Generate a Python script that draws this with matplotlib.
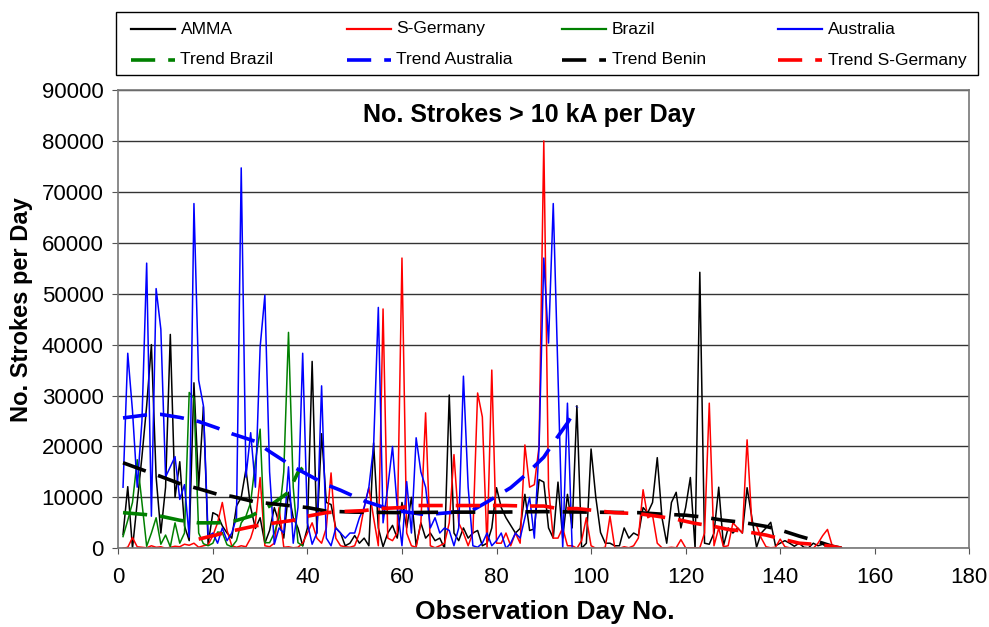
import numpy as np
import matplotlib
matplotlib.use('Agg')
import matplotlib.pyplot as plt
from matplotlib.lines import Line2D
from matplotlib.patches import Rectangle

plt.rcParams['font.family'] = ['Liberation Sans', 'DejaVu Sans']

# daily strokes > 10 kA, day 1..n
amma = [2700, 12100, 0, 9000, 18000, 28000, 40000, 14000, 3000, 12000,
        42000, 10000, 17000, 4400, 1500, 32500, 12000, 27800, 800, 7000,
        6500, 4400, 3000, 2000, 8300, 10000, 15500, 8000, 3900, 6000,
        1000, 3500, 8000, 5000, 2000, 11000, 6000, 4000, 500, 4000,
        36700, 3000, 22500, 9000, 8600, 4000, 3000, 500, 1000, 2500,
        1000, 2000, 500, 20700, 4000, 300, 3000, 4500, 2000, 9000,
        4000, 10000, 500, 5000, 2000, 3000, 1500, 2000, 0, 30100,
        3000, 1500, 4000, 2000, 3000, 3500, 500, 1000, 4000, 11900,
        8000, 6000, 4500, 3000, 3900, 10600, 3500, 3800, 13500, 13000,
        4000, 2000, 13000, 2000, 10600, 4000, 28000, 0, 1000, 19500,
        10000, 3100, 1000, 1000, 500, 500, 4000, 2000, 3000, 2500,
        8000, 7000, 9000, 17800, 6000, 1000, 9000, 11000, 4000, 8000,
        13900, 0, 54200, 1000, 800, 3000, 12000, 500, 4000, 3000,
        4000, 3000, 11900, 6000, 200, 3000, 4000, 5100, 500, 1000,
        1500, 1000, 400, 1000, 200, 100, 1000, 500, 800, 300,
        200, 100, 0]
s_germany = [0, 200, 2100, 300, 200, 100, 500, 200, 300, 0,
             200, 400, 300, 800, 600, 1000, 200, 500, 700, 2500,
             5000, 9000, 3500, 500, 200, 500, 300, 2000, 5000, 13900,
             500, 300, 1000, 8000, 200, 300, 100, 200, 1000, 3000,
             5000, 2000, 1000, 4000, 14800, 2000, 500, 300, 200, 500,
             3000, 8000, 11900, 6000, 500, 47000, 2000, 1500, 3000, 57000,
             3000, 500, 200, 5000, 26600, 500, 100, 500, 1000, 5000,
             18400, 5000, 3000, 500, 3000, 30500, 25800, 0, 35000, 1000,
             1000, 3000, 500, 3000, 1000, 20300, 12000, 12500, 20000, 80000,
             12000, 2000, 2000, 4000, 500, 500, 0, 1500, 6000, 500,
             0, 0, 200, 6300, 200, 0, 300, 100, 500, 2000,
             11500, 6000, 6500, 1000, 100, 100, 200, 100, 1700, 100,
             100, 100, 100, 3000, 28500, 500, 4000, 300, 500, 5000,
             4000, 3000, 21300, 5000, 4500, 2000, 300, 100, 200, 1800,
             300, 100, 0, 0, 0, 0, 0, 1000, 2500, 3700,
             500, 200, 0]
brazil = [2300, 5500, 9000, 17400, 9000, 400, 3000, 6000, 800, 2600,
          300, 5000, 1000, 3000, 30600, 29500, 3000, 900, 500, 1000,
          3200, 3100, 700, 300, 1500, 5000, 6300, 9000, 17000, 23400,
          1100, 1100, 3000, 6000, 15000, 42400, 12000, 1100, 500]
australia = [12000, 38300, 27000, 12000, 25000, 56000, 6300, 51000, 43000, 14000,
             16000, 18000, 9600, 12500, 2200, 67700, 33000, 28000, 2300, 3000,
             1000, 4000, 1500, 3000, 6000, 74700, 14000, 22700, 12000, 39500,
             49700, 15000, 800, 4000, 3000, 16000, 1000, 8000, 38300, 5000,
             800, 3000, 31900, 2000, 500, 4000, 3000, 2000, 3000, 3000,
             6000, 8000, 12000, 20000, 47300, 5000, 12000, 20000, 8000, 500,
             13100, 3000, 21700, 15000, 12000, 4000, 6000, 3000, 4000, 3500,
             500, 4000, 33800, 12000, 500, 200, 1000, 3000, 500, 1500,
             3000, 0, 1000, 3000, 2000, 6000, 10000, 2000, 20000, 57000,
             40300, 67700, 34000, 0, 28500, 0]

# trend curves (day, value)
tr_brazil_x = [1, 6, 9, 13, 17, 21, 24, 28, 32, 36, 38, 39]
tr_brazil_y = [7000, 6600, 6300, 5500, 5000, 5000, 5200, 6300, 8300, 11000, 14900, 15800]
tr_austr_x = [1, 6, 9, 13, 17, 21, 24, 29, 32, 37, 40, 44, 47, 52, 58, 65, 70, 75,
              78, 83, 86, 90, 92, 95, 97]
tr_austr_y = [25600, 26200, 26300, 25700, 24900, 23600, 22500, 21000, 19000, 16000,
              14500, 12500, 11400, 9300, 7500, 6600, 7000, 7500, 9100, 11900,
              14300, 17900, 20700, 24600, 27800]
tr_benin_x = [1, 6, 9, 13, 17, 21, 24, 29, 32, 37, 40, 44, 50, 60, 70, 80, 90, 100,
              110, 115, 120, 124, 128, 132, 137, 140, 144, 147, 151, 153]
tr_benin_y = [16800, 15100, 14100, 12700, 11700, 10600, 10200, 9100, 8800, 8300,
              8000, 7300, 7100, 7000, 7100, 7100, 7200, 7100, 7000, 6700,
              6500, 6100, 5500, 5100, 4300, 3600, 2400, 1600, 400, 0]
tr_sger_x = [17, 21, 24, 29, 31, 37, 40, 44, 47, 52, 55, 60, 62, 82, 86, 90, 93, 97,
             101, 105, 110, 114, 118, 122, 126, 129, 132, 137, 140, 144, 147, 151, 153]
tr_sger_y = [1800, 2700, 3400, 4400, 4700, 5500, 6300, 7000, 7200, 7400, 7800, 8000,
             8400, 8400, 8300, 8300, 7800, 7800, 7400, 7000, 6800, 6300, 5700, 4900,
             4300, 3700, 3400, 2600, 1900, 1000, 800, 400, 0]

W, H = 989, 627
fig = plt.figure(figsize=(W/100, H/100), dpi=100)
ax = fig.add_axes([118.3/W, 1 - 548.3/H, 851/W, 458.3/H])

def days(v):
    return np.arange(1, len(v) + 1)

lw = 1.1
ax.plot(days(amma), amma, color='black', lw=lw)
ax.plot(days(s_germany), s_germany, color='red', lw=lw)
ax.plot(days(brazil), brazil, color='green', lw=lw)
ax.plot(days(australia), australia, color='blue', lw=lw)

dash = (0, (6.7, 3.6))
tlw = 2.6
ax.plot(tr_brazil_x, tr_brazil_y, color='green', lw=tlw, ls=dash)
ax.plot(tr_austr_x, tr_austr_y, color='blue', lw=tlw, ls=dash)
ax.plot(tr_benin_x, tr_benin_y, color='black', lw=tlw, ls=dash)
ax.plot(tr_sger_x, tr_sger_y, color='red', lw=tlw, ls=dash)

ax.set_xlim(0, 180)
ax.set_ylim(0, 90000)
ax.set_xticks(range(0, 181, 20))
ax.set_yticks(range(0, 90001, 10000))
ax.yaxis.grid(True, color='#333333', lw=1)
ax.set_axisbelow(True)
for s in ax.spines.values():
    s.set_color('#777777')
    s.set_linewidth(1.2)
ax.tick_params(labelsize=16, length=4.5, color='#555555', direction='out')
ax.tick_params(axis='y', pad=6)
ax.tick_params(axis='x', pad=9)

fig.text(529.5/W, 1 - 115/H, 'No. Strokes > 10 kA per Day',
         ha='center', va='center', fontsize=18, fontweight='bold')
fig.text(545/W, 1 - 612/H, 'Observation Day No.',
         ha='center', va='center', fontsize=19, fontweight='bold')
fig.text(22/W, 1 - 310/H, 'No. Strokes per Day', rotation=90,
         ha='center', va='center', fontsize=17, fontweight='bold')

# legend box drawn by hand so the four columns are evenly spaced
fig.add_artist(Rectangle((116/W, 1 - 75/H), 862/W, 62.5/H, transform=fig.transFigure,
                         fill=False, edgecolor='black', lw=1))
lab = ['AMMA', 'S-Germany', 'Brazil', 'Australia',
       'Trend Brazil', 'Trend Australia', 'Trend Benin', 'Trend S-Germany']
cols = ['black', 'red', 'green', 'blue', 'green', 'blue', 'black', 'red']
for i in range(8):
    row, col = divmod(i, 4)
    y = 1 - (29 + 31 * row)/H
    x0 = 131 + 215.7 * col
    if row == 0:
        ln = Line2D([x0/W, (x0 + 44)/W], [y, y], color=cols[i], lw=1.6,
                    transform=fig.transFigure)
    else:
        ln = Line2D([x0/W, (x0 + 44)/W], [y, y], color=cols[i], lw=tlw, ls=dash,
                    transform=fig.transFigure)
    fig.add_artist(ln)
    fig.text((x0 + 49.5)/W, y, lab[i], ha='left', va='center', fontsize=12.5)

fig.savefig('out.png', dpi=100)
